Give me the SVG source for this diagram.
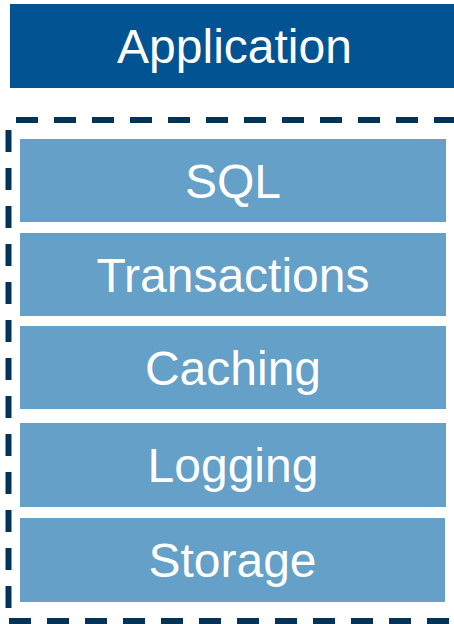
<svg xmlns="http://www.w3.org/2000/svg" width="454" height="624" viewBox="0 0 454 624">
<style>
.layer{fill:#64A0C7}
.app{fill:#025391}
.lbl{font-family:"Liberation Sans",Arial,sans-serif;font-size:48px;fill:#ffffff;text-anchor:middle}
.dash{stroke:#023459;stroke-width:6;stroke-dasharray:22 16;fill:none}
</style>
<rect width="454" height="624" fill="#ffffff"/>
<g id="connectors">
<g id="boundary">
<line class="dash" x1="16" y1="120" x2="460" y2="120"/>
<line class="dash" x1="8.5" y1="130" x2="8.5" y2="616"/>
<line class="dash" x1="9" y1="621" x2="460" y2="621"/>
</g>
</g>
<g id="application">
<rect class="app" x="10" y="4" width="450" height="84"/>
<text class="lbl" x="234.5" y="63">Application</text>
</g>
<g id="sql">
<rect class="layer" x="20" y="139" width="426" height="83"/>
<text class="lbl" x="233" y="197.5">SQL</text>
</g>
<g id="transactions">
<rect class="layer" x="20" y="233" width="426" height="83"/>
<text class="lbl" x="233" y="291.5">Transactions</text>
</g>
<g id="caching">
<rect class="layer" x="20" y="326" width="426" height="83"/>
<text class="lbl" x="233" y="384.5">Caching</text>
</g>
<g id="logging">
<rect class="layer" x="20" y="423" width="426" height="84"/>
<text class="lbl" x="233" y="482">Logging</text>
</g>
<g id="storage">
<rect class="layer" x="20" y="518" width="425" height="84"/>
<text class="lbl" x="232.5" y="577">Storage</text>
</g>
</svg>
